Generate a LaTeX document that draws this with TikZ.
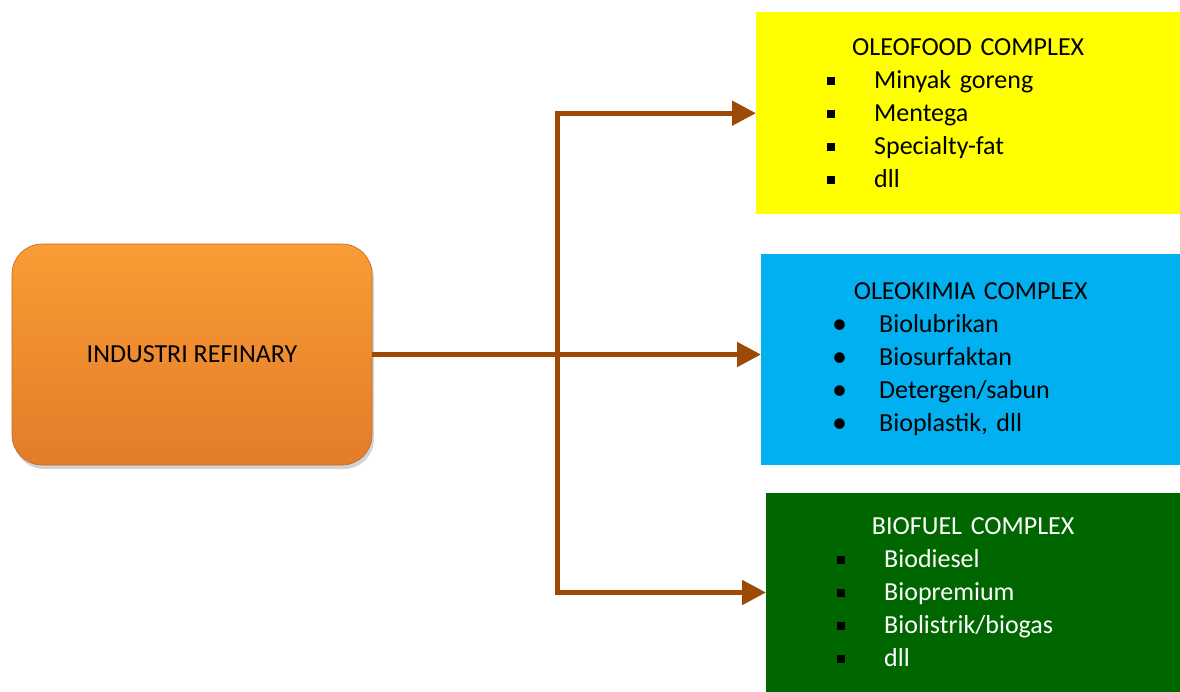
\documentclass[tikz,border=0pt]{standalone}
\usepackage{fontspec}
\setmainfont{Carlito}
\usepackage{tikz}
\usetikzlibrary{positioning, arrows.meta, shadows}
\definecolor{flowbrown}{RGB}{156,74,6}
\definecolor{orangetop}{RGB}{250,156,52}
\definecolor{orangebottom}{RGB}{226,124,42}
\definecolor{foodyellow}{RGB}{255,255,0}
\definecolor{kimiablue}{RGB}{0,176,240}
\definecolor{fuelgreen}{RGB}{0,102,0}
\newcommand{\sqmark}{\textcolor{black}{\rule[3.5pt]{8pt}{8pt}}}
\newcommand{\rdmark}{{\fontsize{30}{30}\selectfont\raisebox{-1pt}{•}}}
\newcommand{\listline}[2]{\makebox[\hsize][l]{\hspace*{71pt}\makebox[47pt][l]{#1}#2}}

\begin{document}
\begin{tikzpicture}[
        x=1pt, y=-1pt,
        source/.style={rectangle, rounded corners=30pt, minimum width=360pt, minimum height=221pt, top color=orangetop, bottom color=orangebottom, draw=orangebottom!85!black, line width=0.6pt, drop shadow={opacity=0.35, shadow xshift=2pt, shadow yshift=-4pt}, font=\fontsize{26}{30}\selectfont},
        complex/.style={rectangle, inner sep=0pt, align=center, anchor=north west, font=\fontsize{26}{33}\selectfont},
        flow/.style={draw=flowbrown, line width=5pt, -{Triangle[length=24pt, width=24pt]}}
    ]
    \useasboundingbox (0,0) rectangle (1180,691);
    \node[source] (refinary) at (192,354.5) {INDUSTRI REFINARY};
    \node[complex, fill=foodyellow, text width=424pt, minimum height=202pt] (oleofood) at (756,12) {OLEOFOOD COMPLEX\\
        \listline{\sqmark}{Minyak goreng}\\
        \listline{\sqmark}{Mentega}\\
        \listline{\sqmark}{Specialty-fat}\\
        \listline{\sqmark}{dll}};
    \node[complex, fill=kimiablue, text width=419pt, minimum height=211pt, below right=39pt and 5pt of oleofood.south west] (oleokimia) {OLEOKIMIA COMPLEX\\
        \listline{\rdmark}{Biolubrikan}\\
        \listline{\rdmark}{Biosurfaktan}\\
        \listline{\rdmark}{Detergen/sabun}\\
        \listline{\rdmark}{Bioplastik, dll}};
    \node[complex, fill=fuelgreen, text=white, text width=414pt, minimum height=199pt, below right=28pt and 5pt of oleokimia.south west] (biofuel) {BIOFUEL COMPLEX\\
        \listline{\sqmark}{Biodiesel}\\
        \listline{\sqmark}{Biopremium}\\
        \listline{\sqmark}{Biolistrik/biogas}\\
        \listline{\sqmark}{dll}};
    % arrows from the refinery
    \coordinate (split) at (557,354.5);
    \draw[flow] (refinary.east) -- (split) |- (oleofood.west);
    \draw[flow] (refinary.east) -- (refinary.east -| oleokimia.west);
    \draw[flow] (refinary.east) -- (split) |- (biofuel.west);
\end{tikzpicture}
\end{document}
